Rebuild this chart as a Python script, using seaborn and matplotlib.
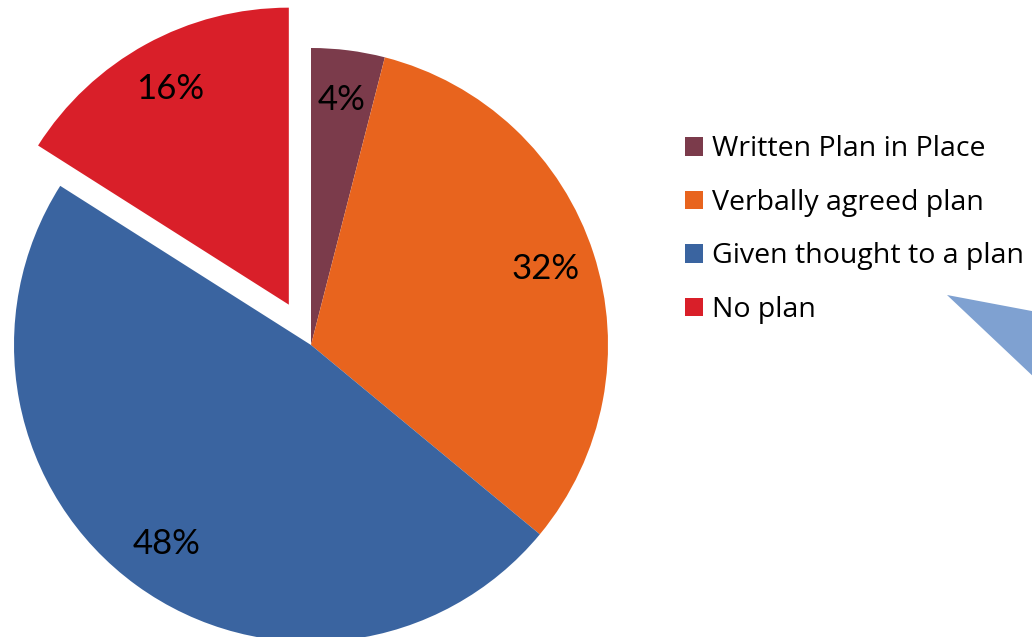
import matplotlib
matplotlib.use("Agg")
import matplotlib.pyplot as plt
from matplotlib.patches import Polygon
import seaborn as sns

categories = ["Written Plan in Place", "Verbally agreed plan",
              "Given thought to a plan", "No plan"]
shares = [4, 32, 48, 16]
pct_labels = ["4%", "32%", "48%", "16%"]
colors = ["#7B3B4B", "#E8641E", "#3A64A0", "#D91F29"]
explode = [0, 0, 0, 0.155]

sns.set_theme(style="white")
plt.rcParams["font.family"] = ["Lato", "DejaVu Sans"]
plt.rcParams["text.color"] = "black"

W, H = 1032, 637
fig = plt.figure(figsize=(W / 100, H / 100), dpi=100)
ax = fig.add_axes([0, 0, 1, 1])

# pie centre / radius in pixels
cx, cy, r = 311, 345, 297

wedges, texts, autotexts = ax.pie(
    shares, colors=sns.color_palette(colors), explode=explode,
    startangle=90, counterclock=False, radius=1.0,
    autopct=lambda p: "", pctdistance=0.83,
    wedgeprops=dict(linewidth=0),
)
for t, lab in zip(autotexts, pct_labels):
    t.set_text(lab)
    t.set_fontsize(25)
    t.set_color("black")

ax.set_xlim(-cx / r, (W - cx) / r)
ax.set_ylim((cy - H) / r, cy / r)
ax.set_aspect("equal")
ax.axis("off")

leg = fig.legend(
    wedges, categories, loc="upper left",
    bbox_to_anchor=(671 / W, 1 - 121 / H), frameon=False,
    prop={"family": ["Open Sans", "DejaVu Sans"], "size": 20.5},
    handlelength=0.63, handleheight=0.63,
    handletextpad=0.3, labelspacing=0.9, borderpad=0,
    labelcolor="black",
)

# edge of the neighbouring breakout shape
fig.patches.append(Polygon(
    [(947 / W, 1 - 295 / H), (1 + 0.01, 1 - 313 / H), (1 + 0.01, 1 - 385 / H)],
    closed=True, transform=fig.transFigure, facecolor="#7FA1D1",
    edgecolor="none", figure=fig))

fig.savefig("out.png", dpi=100)
